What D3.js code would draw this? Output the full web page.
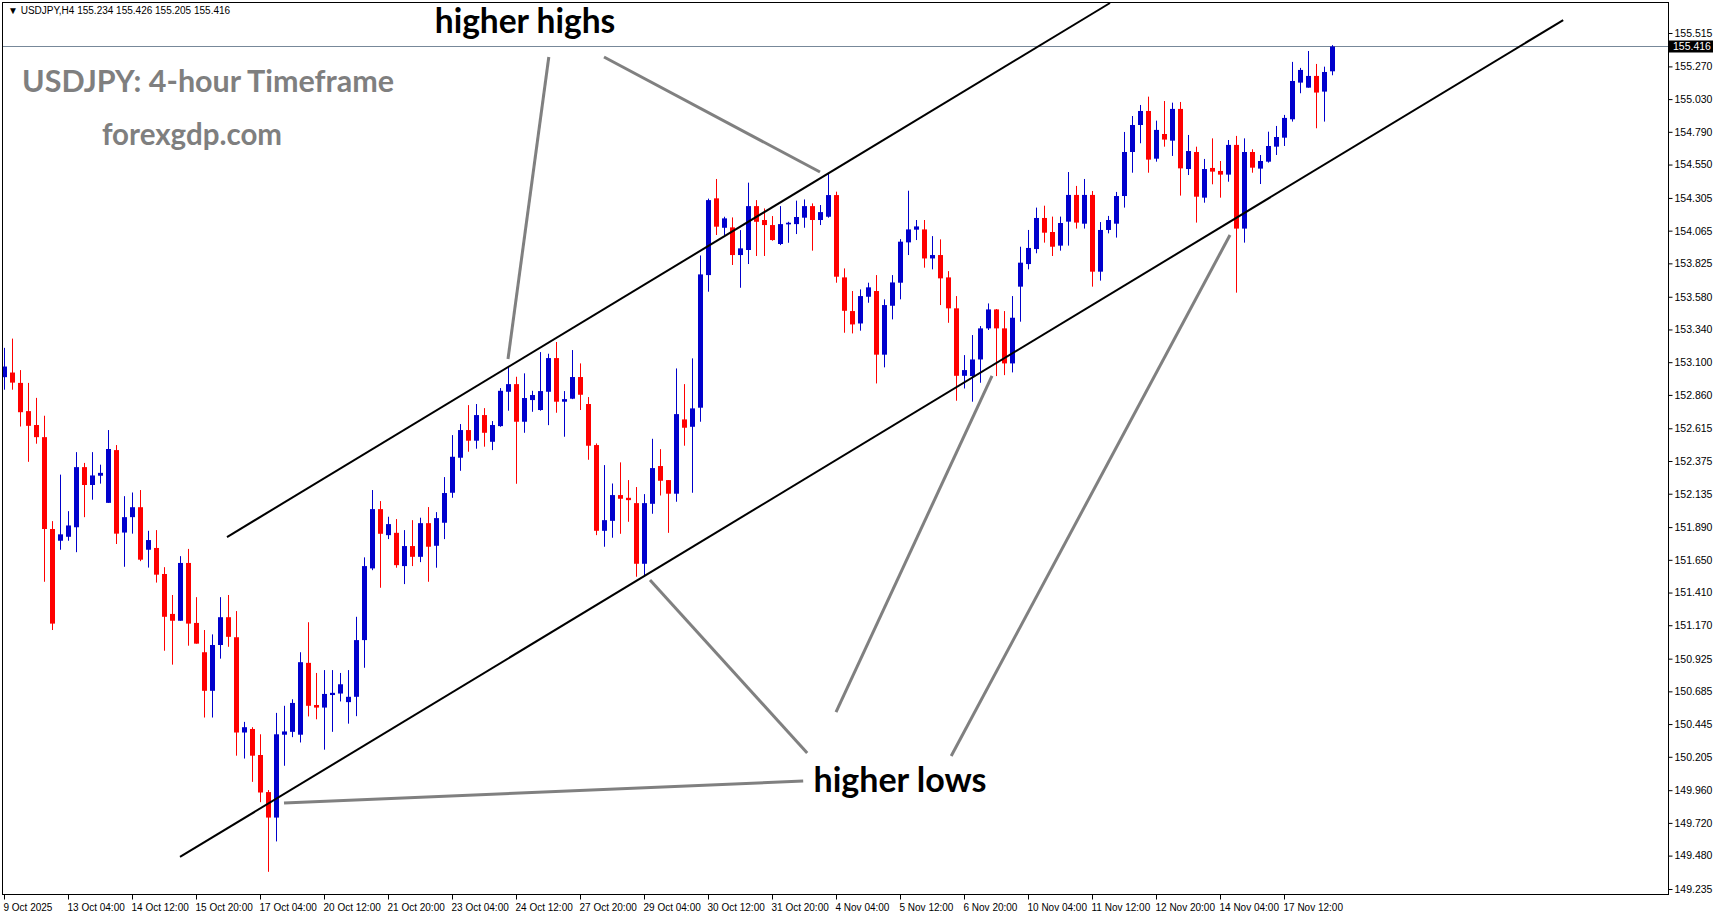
<!DOCTYPE html>
<html><head><meta charset="utf-8">
<script src="https://cdn.jsdelivr.net/npm/d3@7"></script>
<style>html,body{margin:0;padding:0;background:#fff;overflow:hidden}</style>
</head><body>
<svg id="c" width="1714" height="915"></svg>
<script>
const opens=[152.99,153.024,152.948,152.741,152.639,152.55,151.876,151.79,151.819,151.889,152.33,152.199,152.267,152.068,152.455,151.85,151.963,152.036,151.724,151.737,151.546,151.253,151.203,151.627,151.187,150.972,150.689,151.025,151.229,151.082,150.383,150.409,150.218,149.946,149.759,150.367,150.388,150.367,150.894,150.585,150.566,150.658,150.669,150.606,150.645,151.061,151.587,152.022,151.831,151.848,151.604,151.751,151.672,151.919,151.753,151.922,152.142,152.399,152.602,152.524,152.712,152.516,152.631,152.883,152.939,152.663,152.822,152.749,152.883,153.13,152.81,152.832,152.991,152.793,152.492,151.863,151.936,152.125,152.105,152.066,151.621,152.061,152.338,152.235,152.135,152.68,152.626,152.766,153.739,154.302,154.086,154.089,153.886,153.923,154.245,154.143,154.106,153.967,154.111,154.113,154.16,154.245,154.143,154.167,154.326,153.722,153.475,153.384,153.58,153.622,153.155,153.514,153.683,153.979,154.072,154.074,153.861,153.886,153.722,153.495,153.0,152.998,153.12,153.348,153.487,153.348,153.091,153.654,153.82,153.93,154.158,154.055,153.955,154.131,154.327,154.116,154.327,153.764,154.07,154.116,154.319,154.642,154.84,154.943,154.593,154.774,154.725,154.958,154.517,154.642,154.307,154.525,154.503,154.476,154.694,154.08,154.642,154.52,154.571,154.681,154.747,154.882,155.151,155.114,155.2,155.085,155.234];
const highs=[153.205,153.273,153.042,152.948,152.838,152.707,151.934,152.275,152.007,152.44,152.361,152.44,152.348,152.602,152.492,152.117,152.144,152.162,151.863,151.868,151.596,151.392,151.677,151.73,151.376,151.135,151.103,151.376,151.392,151.274,150.461,150.422,150.37,149.961,150.527,150.579,150.627,150.972,151.192,150.82,150.841,150.841,150.82,150.841,151.232,151.668,152.162,152.081,151.966,151.949,151.868,151.941,151.959,152.037,152.0,152.257,152.565,152.646,152.785,152.793,152.763,152.668,152.91,153.067,152.993,153.018,152.89,153.174,153.162,153.248,152.888,153.189,153.091,152.844,152.504,152.345,152.21,152.365,152.235,152.184,152.132,152.538,152.462,152.235,153.054,152.939,153.128,153.883,154.30,154.444,154.167,154.162,154.069,154.417,154.289,154.228,154.172,154.245,154.13,154.285,154.294,154.265,154.253,154.485,154.351,153.788,153.622,153.634,153.683,153.739,153.561,153.739,154.003,154.358,154.143,154.143,154.025,154.001,153.768,153.585,153.152,153.299,153.365,153.531,153.49,153.475,153.585,153.947,154.07,154.234,154.248,154.168,154.168,154.495,154.393,154.444,154.356,154.128,154.173,154.349,154.789,154.906,154.987,155.048,154.872,155.016,155.004,155.009,154.767,154.681,154.591,154.742,154.576,154.73,154.76,154.742,154.662,154.62,154.791,154.833,154.914,155.303,155.259,155.383,155.288,155.268,155.426];
const lows=[152.898,152.898,152.628,152.369,152.502,151.489,151.135,151.724,151.79,151.706,151.963,152.091,152.209,152.068,151.766,151.599,151.842,151.64,151.593,151.483,150.983,150.881,151.203,151.02,151.035,150.493,150.493,150.925,151.012,150.213,150.192,150.021,149.872,149.361,149.584,150.139,150.349,150.31,150.501,150.48,150.257,150.388,150.611,150.448,150.503,150.858,151.574,151.445,151.802,151.592,151.472,151.604,151.633,151.489,151.592,151.802,152.105,152.303,152.443,152.465,152.48,152.455,152.626,152.744,152.208,152.582,152.736,152.744,152.638,152.729,152.553,152.829,152.749,152.384,151.831,151.746,151.812,151.841,151.929,151.526,151.526,151.988,152.122,151.848,152.076,152.487,152.142,152.663,153.617,154.033,154.033,153.813,153.646,153.82,153.879,153.879,153.991,153.959,153.976,154.04,154.086,153.918,154.106,154.16,153.683,153.316,153.311,153.331,153.536,152.944,153.062,153.414,153.561,153.886,153.996,153.793,153.781,153.519,153.389,152.817,152.907,152.81,152.949,153.336,152.998,153.005,153.025,153.397,153.781,153.899,153.977,153.879,153.918,153.955,154.08,154.08,153.654,153.698,154.045,154.014,154.234,154.49,154.706,154.49,154.571,154.681,154.613,154.322,154.473,154.124,154.27,154.405,154.307,154.424,153.61,153.977,154.49,154.407,154.564,154.62,154.686,154.865,155.073,155.114,154.816,154.865,155.205];
const closes=[153.068,152.95,152.733,152.633,152.55,151.876,151.182,151.837,151.902,152.33,152.199,152.269,152.288,152.463,151.842,151.963,152.036,151.651,151.795,151.541,151.232,151.203,151.627,151.182,151.035,150.689,151.025,151.229,151.085,150.383,150.422,150.213,149.943,149.759,150.37,150.391,150.6,150.899,150.579,150.566,150.666,150.674,150.737,150.645,151.061,151.604,152.022,151.841,151.912,151.611,151.751,151.672,151.919,151.746,151.956,152.14,152.406,152.602,152.524,152.712,152.582,152.639,152.89,152.939,152.663,152.837,152.859,152.888,153.13,152.81,152.829,152.991,152.861,152.487,151.863,151.941,152.125,152.098,152.088,151.621,152.066,152.323,152.23,152.135,152.719,152.619,152.761,153.744,154.289,154.094,154.155,153.886,153.935,154.245,154.13,154.106,153.996,154.113,154.123,154.165,154.245,154.143,154.201,154.326,153.727,153.477,153.377,153.585,153.649,153.155,153.519,153.685,153.984,154.074,154.096,153.861,153.886,153.715,153.495,153.0,153.042,153.12,153.348,153.487,153.348,153.091,153.426,153.83,153.938,154.158,154.05,153.947,154.121,154.327,154.124,154.327,153.764,154.07,154.143,154.319,154.642,154.84,154.943,154.586,154.804,154.733,154.958,154.522,154.649,154.314,154.517,154.498,154.476,154.694,154.08,154.642,154.527,154.576,154.686,154.752,154.892,155.163,155.244,155.2,155.078,155.229,155.416];
const xTickLabels=["9 Oct 2025","13 Oct 04:00","14 Oct 12:00","15 Oct 20:00","17 Oct 04:00","20 Oct 12:00","21 Oct 20:00","23 Oct 04:00","24 Oct 12:00","27 Oct 20:00","29 Oct 04:00","30 Oct 12:00","31 Oct 20:00","4 Nov 04:00","5 Nov 12:00","6 Nov 20:00","10 Nov 04:00","11 Nov 12:00","12 Nov 20:00","14 Nov 04:00","17 Nov 12:00"];
const yTicks=[155.515,155.270,155.030,154.790,154.550,154.305,154.065,153.825,153.580,153.340,153.100,152.860,152.615,152.375,152.135,151.890,151.650,151.410,151.170,150.925,150.685,150.445,150.205,149.960,149.720,149.480,149.235];
const lastPrice=155.416;
// channel lines [bar, price]
const upperChannel=[[27.875,151.817],[138.25,155.735]];
const lowerChannel=[[22,149.47],[194.9,155.61]];
const highArrows=[[[68.1,155.339],[63,153.123]],[[75,155.339],[102,154.495]]];
const lowArrows=[[[100.4,150.233],[80.75,151.502]],[[104,150.533],[123.5,152.999]],[[118.4,150.211],[153.25,154.033]],[[99.9,150.027],[35,149.866]]];

const svg=d3.select("#c");
const L=2,T=2,R=1668,B=894;
const x=d3.scaleLinear().domain([0,166]).range([4,1332]);
const y=d3.scaleLinear().domain([149.235,155.515]).range([889,33]);
svg.append("defs").append("clipPath").attr("id","pc").append("rect").attr("x",L).attr("y",T).attr("width",R-L).attr("height",B-T);
const g=svg.append("g").attr("clip-path","url(#pc)");
g.append("line").attr("x1",L).attr("x2",R).attr("y1",Math.round(y(lastPrice))+0.5).attr("y2",Math.round(y(lastPrice))+0.5).attr("stroke","#778899").attr("stroke-width",1);
const bars=d3.range(opens.length).map(i=>({i,o:opens[i],h:highs[i],l:lows[i],c:closes[i]}));
const col=d=>d.c>=d.o?"#0000cc":"#ff0000";
g.selectAll(".w").data(bars).join("line").attr("x1",d=>x(d.i)+0.5).attr("x2",d=>x(d.i)+0.5).attr("y1",d=>y(d.h)).attr("y2",d=>y(d.l)).attr("stroke",col).attr("stroke-width",1);
g.selectAll(".b").data(bars).join("rect").attr("x",d=>x(d.i)-2).attr("width",5).attr("y",d=>y(Math.max(d.o,d.c))).attr("height",d=>Math.max(1.5,Math.abs(y(d.o)-y(d.c)))).attr("fill",col);
const ln=d3.line().x(p=>x(p[0])).y(p=>y(p[1]));
[upperChannel,lowerChannel].forEach(c=>g.append("path").attr("d",ln(c)).attr("stroke","#000").attr("stroke-width",2).attr("fill","none"));
highArrows.concat(lowArrows).forEach(c=>g.append("path").attr("d",ln(c)).attr("stroke","#808080").attr("stroke-width",3).attr("fill","none"));
svg.append("rect").attr("x",L+0.5).attr("y",T+0.5).attr("width",R-L).attr("height",B-T).attr("fill","none").attr("stroke","#000");
const ya=svg.append("g").attr("transform",`translate(${R+0.5},0)`).call(d3.axisRight(y).tickValues(yTicks).tickFormat(d3.format(".3f")).tickSize(4).tickSizeOuter(0));
ya.select(".domain").remove();
ya.selectAll("text").attr("font-family","Liberation Sans, Arial").attr("font-size","10.5px").attr("fill","#000").attr("x",6);
const py=y(lastPrice);
svg.append("rect").attr("x",R+1).attr("y",py-6).attr("width",44).attr("height",12).attr("fill","#000");
svg.append("text").attr("x",R+5).attr("y",py+4).attr("fill","#fff").attr("font-family","Liberation Sans, Arial").attr("font-size","10.5px").text(lastPrice.toFixed(3));
const xa=svg.append("g").attr("transform",`translate(0,${B+0.5})`).call(d3.axisBottom(x).tickValues(d3.range(0,161,8)).tickFormat((d,i)=>xTickLabels[i]).tickSize(5).tickSizeOuter(0));
xa.select(".domain").remove();
xa.selectAll("text").attr("font-family","Liberation Sans, Arial").attr("font-size","10px").attr("fill","#000").attr("text-anchor","start").attr("dx","-1").attr("y",9);
svg.append("text").attr("x",8).attr("y",14).attr("font-family","Liberation Sans, Arial").attr("font-size","10px").attr("fill","#000").text("\u25BC USDJPY,H4  155.234 155.426 155.205 155.416");
svg.append("text").attr("x",22).attr("y",92).attr("font-family","Lato, Open Sans").attr("font-weight","bold").attr("font-size","30.5px").attr("fill","#7f7f7f").text("USDJPY: 4-hour Timeframe");
svg.append("text").attr("x",192).attr("y",145).attr("text-anchor","middle").attr("font-family","Lato, Open Sans").attr("font-weight","bold").attr("font-size","29.5px").attr("fill","#7f7f7f").text("forexgdp.com");
svg.append("text").attr("x",525).attr("y",33).attr("text-anchor","middle").attr("font-family","Lato, Open Sans").attr("font-weight","bold").attr("font-size","33.5px").attr("fill","#000").text("higher highs");
svg.append("text").attr("x",900).attr("y",792).attr("text-anchor","middle").attr("font-family","Lato, Open Sans").attr("font-weight","bold").attr("font-size","34px").attr("fill","#000").text("higher lows");
</script></body></html>
